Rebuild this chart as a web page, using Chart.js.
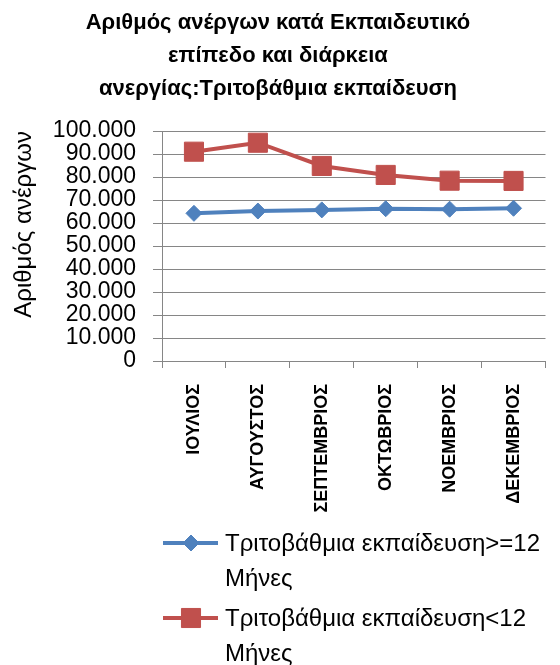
<!DOCTYPE html>
<html lang="el">
<head>
<meta charset="utf-8">
<title>Άνεργοι τριτοβάθμιας εκπαίδευσης</title>
<script src="https://cdn.jsdelivr.net/npm/chart.js@4.4.1/dist/chart.umd.min.js"></script>
<style>
  html, body { margin: 0; padding: 0; background: #fff; }
  #chart { display: block; }
</style>
</head>
<body>
<canvas id="chart" width="560" height="665"></canvas>
<script>
// months on the x axis
const months = ["ΙΟΥΛΙΟΣ", "ΑΥΓΟΥΣΤΟΣ", "ΣΕΠΤΕΜΒΡΙΟΣ", "ΟΚΤΩΒΡΙΟΣ", "ΝΟΕΜΒΡΙΟΣ", "ΔΕΚΕΜΒΡΙΟΣ"]

// unemployed with tertiary education, by duration of unemployment
const longTerm = [64200, 65200, 65700, 66200, 66000, 66400]
const shortTerm = [91000, 94900, 84800, 80900, 78400, 78300]
const seriesNames = ["Τριτοβάθμια εκπαίδευση>=12 Μήνες", "Τριτοβάθμια εκπαίδευση<12 Μήνες"]

const titleLines = ["Αριθμός ανέργων κατά Εκπαιδευτικό", "επίπεδο και διάρκεια", "ανεργίας:Τριτοβάθμια εκπαίδευση"]
const yTitle = "Αριθμός ανέργων"
const yMin = 0
const yMax = 100000
const yStep = 10000

const FONT = "'Liberation Sans', Arial, sans-serif"
const GRID = "#868686"

// 100000 -> "100.000"
function fmt(v) {
  return String(v).replace(/\B(?=(\d{3})+(?!\d))/g, ".")
}

// legend under the axis labels, text wrapped onto two lines
const bottomLegend = {
  id: "bottomLegend",
  afterDraw(chart) {
    const ctx = chart.ctx
    const baselines = [551, 626]
    const lineGap = 35
    const maxText = 330
    ctx.save()
    ctx.font = "24px " + FONT
    ctx.textBaseline = "alphabetic"
    ctx.textAlign = "left"
    chart.data.datasets.forEach((ds, i) => {
      const base = baselines[i]
      const midY = base - 8
      ctx.strokeStyle = ds.borderColor
      ctx.lineWidth = 4
      ctx.beginPath()
      ctx.moveTo(163, midY)
      ctx.lineTo(218, midY)
      ctx.stroke()
      ctx.fillStyle = ds.backgroundColor
      ctx.lineWidth = 1
      Chart.helpers.drawPoint(ctx, { pointStyle: ds.pointStyle, radius: ds.pointRadius, borderWidth: 1, rotation: 0 }, 191, midY)

      // simple word wrap
      const words = ds.label.split(" ")
      const lines = []
      let cur = ""
      words.forEach((w) => {
        const test = cur ? cur + " " + w : w
        if (ctx.measureText(test).width > maxText && cur) {
          lines.push(cur)
          cur = w
        } else {
          cur = test
        }
      })
      if (cur) lines.push(cur)
      ctx.fillStyle = "#000"
      lines.forEach((ln, k) => ctx.fillText(ln, 225, base + k * lineGap))
    })
    ctx.restore()
  },
}

const ctx = document.getElementById("chart").getContext("2d")
new Chart(ctx, {
  type: "line",
  data: {
    labels: months,
    datasets: [
      {
        label: seriesNames[0],
        data: longTerm,
        borderColor: "#4F81BD",
        backgroundColor: "#4F81BD",
        borderWidth: 4,
        pointStyle: "rectRot",
        pointRadius: 8,
        pointBorderWidth: 1,
        tension: 0,
      },
      {
        label: seriesNames[1],
        data: shortTerm,
        borderColor: "#C0504D",
        backgroundColor: "#C0504D",
        borderWidth: 4,
        pointStyle: "rect",
        pointRadius: 13.5,
        pointBorderWidth: 1,
        tension: 0,
      },
    ],
  },
  options: {
    responsive: false,
    animation: false,
    layout: { padding: { left: 0, right: 4, top: 0, bottom: 0 } },
    plugins: {
      legend: { display: false },
      tooltip: { enabled: false },
      title: {
        display: true,
        text: titleLines,
        color: "#000",
        font: { family: FONT, size: 22, weight: "bold", lineHeight: 1.5 },
        padding: { top: 6, bottom: 26 },
      },
    },
    scales: {
      x: {
        offset: true,
        grid: { display: true, drawOnChartArea: false, offset: true, tickLength: 7, color: GRID },
        border: { display: true, color: GRID },
        ticks: {
          autoSkip: false,
          maxRotation: 90,
          minRotation: 90,
          padding: 16,
          color: "#000",
          font: { family: FONT, size: 18, weight: "bold" },
        },
        afterFit: (scale) => {
          scale.height = 304
        },
      },
      y: {
        min: yMin,
        max: yMax,
        grid: { color: GRID, tickLength: 9 },
        border: { display: true, color: GRID },
        ticks: {
          stepSize: yStep,
          autoSkip: false,
          padding: 17,
          color: "#000",
          font: { family: FONT, size: 23 },
          callback: (v) => fmt(v),
        },
        title: {
          display: true,
          text: yTitle,
          align: "end",
          color: "#000",
          font: { family: FONT, size: 24, lineHeight: 1.2 },
          padding: { top: 10 },
        },
        afterFit: (scale) => {
          scale.width = 162
        },
      },
    },
  },
  plugins: [bottomLegend],
})
</script>
</body>
</html>
